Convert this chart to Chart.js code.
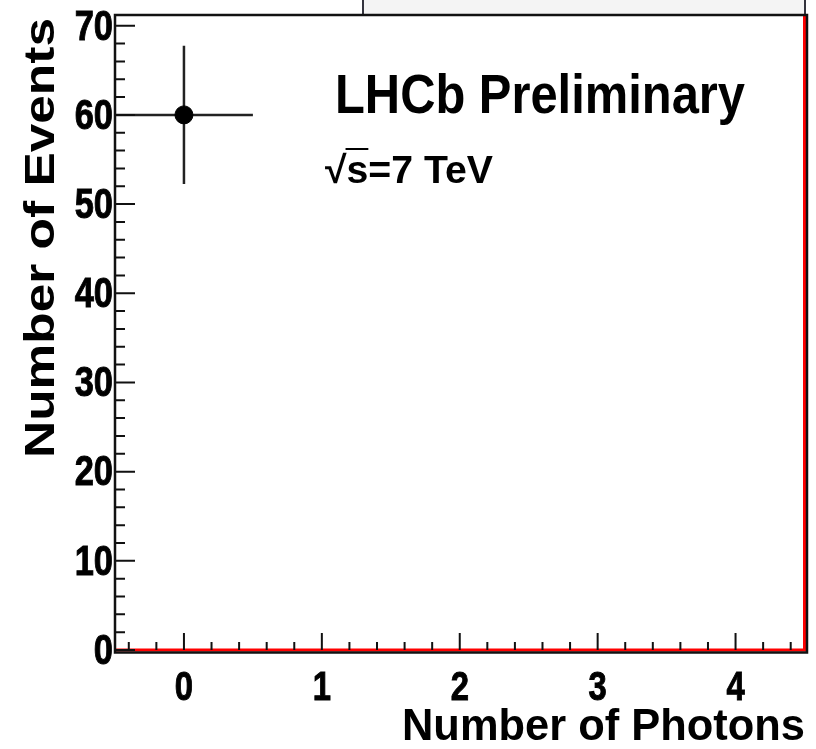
<!DOCTYPE html>
<html>
<head>
<meta charset="utf-8">
<script src="https://cdn.jsdelivr.net/npm/chart.js@4/dist/chart.umd.min.js"></script>
<style>
  html, body { margin: 0; padding: 0; background: #fff; }
  #wrap { width: 816px; height: 749px; }
</style>
</head>
<body>
<div id="wrap"><canvas id="c"></canvas></div>
<script>
// data
const photons = [0];
const events = [60];
const photonErr = [0.5];
const eventErr = [7.75];
// red histogram outline (empty bins, right edge)
const histX = [-0.5, 4.5, 4.5];
const histY = [0, 0, 71.2];

const xTicks = [0, 1, 2, 3, 4];
const yTicks = [0, 10, 20, 30, 40, 50, 60, 70];
const xTitle = 'Number of Photons';
const yTitle = 'Number of Events';

const FONT = '"Liberation Sans", Arial, Helvetica, sans-serif';

function setFont(ctx, size) {
  ctx.font = `bold ${size}px ${FONT}`;
}

// draw text squeezed horizontally to a given width (ROOT export looks narrow)
function fitText(ctx, text, x, y, size, width) {
  setFont(ctx, size);
  const sx = width / ctx.measureText(text).width;
  ctx.save();
  ctx.translate(x, y);
  ctx.scale(sx, 1);
  ctx.textAlign = 'left';
  ctx.textBaseline = 'alphabetic';
  ctx.fillText(text, 0, 0);
  ctx.restore();
  return sx;
}

function tickText(ctx, text, x, y, size, sx, align, base) {
  setFont(ctx, size);
  ctx.save();
  ctx.translate(x, y);
  ctx.scale(sx, 1);
  ctx.textAlign = align;
  ctx.textBaseline = base;
  ctx.lineWidth = 1;
  ctx.strokeStyle = '#000';
  ctx.fillText(text, 0, 0);
  ctx.strokeText(text, 0, 0);
  ctx.restore();
}

const rootStyle = {
  id: 'rootStyle',
  beforeDatasetsDraw(chart) {
    const { ctx, scales: { x, y } } = chart;
    // error bars
    ctx.save();
    ctx.strokeStyle = '#222';
    ctx.lineWidth = 2.5;
    photons.forEach((p, i) => {
      const px = x.getPixelForValue(p);
      const py = y.getPixelForValue(events[i]);
      ctx.beginPath();
      ctx.moveTo(x.getPixelForValue(p - photonErr[i]), py);
      ctx.lineTo(x.getPixelForValue(p + photonErr[i]), py);
      ctx.moveTo(px, y.getPixelForValue(events[i] - eventErr[i]));
      ctx.lineTo(px, y.getPixelForValue(events[i] + eventErr[i]));
      ctx.stroke();
    });
    ctx.restore();
  },
  afterDraw(chart) {
    const { ctx, chartArea: a, scales: { x, y } } = chart;
    ctx.save();

    // stats box cut off at the top
    ctx.fillStyle = '#f4f4f4';
    ctx.fillRect(363, -2, 805 - 363, 17);
    ctx.strokeStyle = '#34343e';
    ctx.lineWidth = 2;
    ctx.strokeRect(363, -2, 805 - 363, 17);

    // frame
    ctx.strokeStyle = '#111';
    ctx.lineWidth = 2.5;
    ctx.beginPath();
    ctx.moveTo(a.left, a.top);
    ctx.lineTo(a.right + 2.5, a.top);
    ctx.lineTo(a.right + 2.5, a.bottom + 2.5);
    ctx.lineTo(a.left, a.bottom + 2.5);
    ctx.closePath();
    ctx.stroke();

    // ticks, drawn inward like ROOT
    ctx.lineWidth = 2;
    ctx.beginPath();
    for (let v = 0; v <= y.max; v += 2) {
      const py = y.getPixelForValue(v);
      const len = v % 10 === 0 ? 20 : 10;
      ctx.moveTo(a.left, py);
      ctx.lineTo(a.left + len, py);
    }
    for (let k = -2; k <= 22; k++) {
      const v = k * 0.2;
      const px = x.getPixelForValue(v);
      const len = k % 5 === 0 ? 17 : 8;
      ctx.moveTo(px, a.bottom);
      ctx.lineTo(px, a.bottom - len);
    }
    ctx.stroke();

    // tick labels
    ctx.fillStyle = '#000';
    yTicks.forEach(v => {
      tickText(ctx, String(v), a.left - 2, y.getPixelForValue(v) + 2, 43, 0.8, 'right', 'middle');
    });
    xTicks.forEach(v => {
      tickText(ctx, String(v), x.getPixelForValue(v), 668, 41, 0.8, 'center', 'top');
    });

    // axis titles
    fitText(ctx, xTitle, 402, 740, 45, 403);
    ctx.save();
    ctx.translate(54, 458);
    ctx.rotate(-Math.PI / 2);
    fitText(ctx, yTitle, 0, 0, 43, 440);
    ctx.restore();

    // labels
    fitText(ctx, 'LHCb Preliminary', 335, 113, 55, 410);
    const sx = fitText(ctx, '\u221As=7 TeV', 325, 183, 38, 168);
    setFont(ctx, 38);
    const x0 = 325 + ctx.measureText('\u221A').width * sx;
    const x1 = 325 + ctx.measureText('\u221As').width * sx;
    ctx.strokeStyle = '#000';
    ctx.lineWidth = 2;
    ctx.beginPath();
    ctx.moveTo(x0 - 1, 149);
    ctx.lineTo(x1, 149);
    ctx.stroke();

    ctx.restore();
  }
};

new Chart(document.getElementById('c'), {
  type: 'scatter',
  data: {
    datasets: [
      {
        type: 'line',
        data: histX.map((v, i) => ({ x: v, y: histY[i] })),
        borderColor: '#ff0000',
        borderWidth: 3,
        pointRadius: 0,
        fill: false,
        tension: 0,
        clip: false,
        order: 2,
      },
      {
        data: photons.map((v, i) => ({ x: v, y: events[i] })),
        backgroundColor: '#000',
        borderColor: '#000',
        pointRadius: 9,
        pointHoverRadius: 9,
        order: 1,
      },
    ],
  },
  options: {
    responsive: true,
    maintainAspectRatio: false,
    animation: false,
    events: [],
    layout: { padding: { left: 115, right: 11.5, top: 15, bottom: 99 } },
    plugins: { legend: { display: false }, tooltip: { enabled: false } },
    scales: {
      x: { type: 'linear', min: -0.5, max: 4.5, display: false },
      y: { type: 'linear', min: 0, max: 71.2, display: false },
    },
  },
  plugins: [rootStyle],
});
</script>
</body>
</html>
